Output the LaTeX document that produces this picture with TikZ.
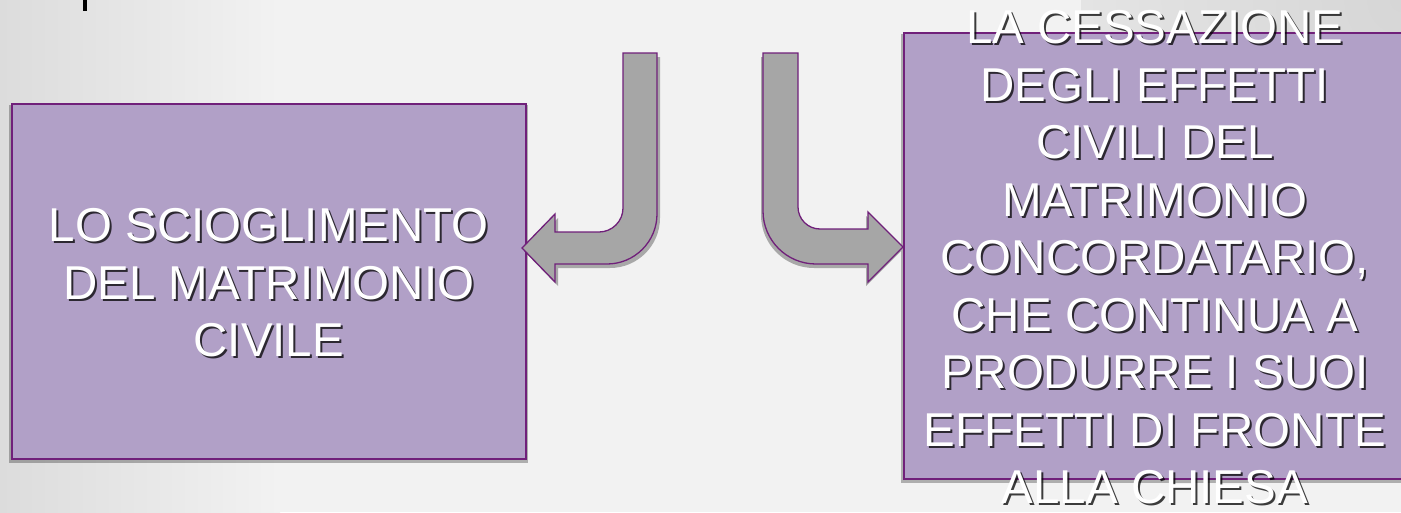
\documentclass[tikz,border=0pt]{standalone}
\usepackage{fontspec}
\setmainfont{Liberation Sans}
\definecolor{boxfill}{HTML}{B1A0C7}
\definecolor{boxline}{HTML}{70207A}
\definecolor{arrowfill}{HTML}{A6A6A6}
\definecolor{bginner}{HTML}{F2F2F2}
\definecolor{bgouter}{HTML}{D6D6D6}
\definecolor{bgleft}{HTML}{DCDCDC}
\pgfdeclareradialshading{cornerdark}{\pgfpoint{0bp}{0bp}}{color(0bp)=(bgouter); color(50bp)=(bginner)}
\begin{document}
\begin{tikzpicture}[x=1pt,y=-1pt,
  box/.style={draw=boxline, line width=1.6pt, fill=boxfill, inner sep=0pt, anchor=north west},
  boxshadow/.style={fill=black, opacity=0.28},
  bigtxt/.style={font=\fontsize{47.5}{57.5}\selectfont, align=center, inner sep=0pt},
  txtshadow/.style={bigtxt, text=black, opacity=0.75},
  txtmain/.style={bigtxt, text=white},
  arrowbody/.style={draw=boxline, line width=1.3pt, fill=arrowfill, line join=miter},
  arrowshadow/.style={fill=black, opacity=0.3},
  larrow/.style={insert path={(623,53) -- (657,53) -- (657,214)
     .. controls (657,241.6) and (634.6,264) .. (607,264)
     -- (555,264) -- (555,282) -- (522,248) -- (555,214) -- (555,232) -- (599,232)
     .. controls (612.2,232) and (623,221.2) .. (623,208) -- cycle}},
  rarrow/.style={insert path={(763,53) -- (798,53) -- (798,207)
     .. controls (798,219.1) and (807.9,229) .. (820,229)
     -- (868,229) -- (868,212) -- (903,247) -- (868,282) -- (868,264) -- (816,264)
     .. controls (786.7,264) and (763,240.3) .. (763,211) -- cycle}}
]
\useasboundingbox (0,0) rectangle (1401,512);
\clip (0,0) rectangle (1401,512);
% background
\fill[bginner] (0,0) rectangle (1401,512);
\shade[left color=bgleft, right color=bginner] (0,0) rectangle (280,512);
\shade[shading=cornerdark] (1401,0) circle (320);
% fragment of cut-off title
\fill[black] (83,0) rectangle (87,11);

% boxes
\fill[boxshadow] (9,105) rectangle (528,463);
\node[box, minimum width=514pt, minimum height=355pt] (L) at (11,103) {};
\fill[boxshadow] (901,34) rectangle (1410,483);
\node[box, minimum width=502pt, minimum height=446pt] (R) at (903,32) {};

% arrows
\fill[arrowshadow, shift={(3,4)}, larrow];
\draw[arrowbody, larrow];
\fill[arrowshadow, shift={(-2,4)}, rarrow];
\draw[arrowbody, rarrow];

% texts
\node[txtshadow] at ([shift={(2,3.5)}]L.center) {LO SCIOGLIMENTO\\DEL MATRIMONIO\\CIVILE};
\node[txtmain] (Lt) at ([shift={(0,1.5)}]L.center) {LO SCIOGLIMENTO\\DEL MATRIMONIO\\CIVILE};
\node[txtshadow] at ([shift={(2,3.5)}]R.center) {LA CESSAZIONE\\DEGLI EFFETTI\\CIVILI DEL\\MATRIMONIO\\CONCORDATARIO,\\CHE CONTINUA A\\PRODURRE I SUOI\\EFFETTI DI FRONTE\\ALLA CHIESA};
\node[txtmain] (Rt) at ([shift={(0,1.5)}]R.center) {LA CESSAZIONE\\DEGLI EFFETTI\\CIVILI DEL\\MATRIMONIO\\CONCORDATARIO,\\CHE CONTINUA A\\PRODURRE I SUOI\\EFFETTI DI FRONTE\\ALLA CHIESA};
\end{tikzpicture}
\end{document}
